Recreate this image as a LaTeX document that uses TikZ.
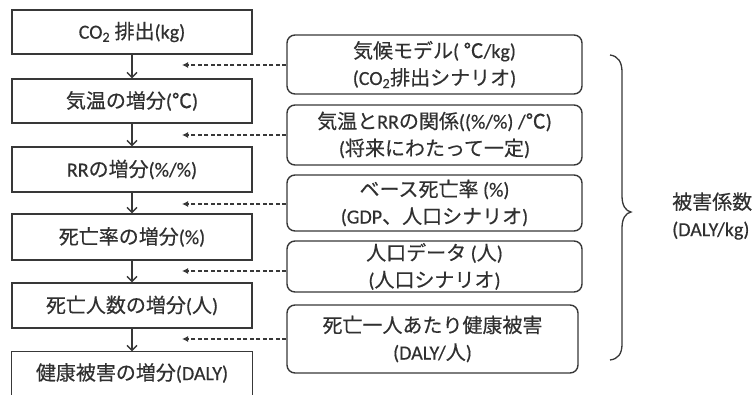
\documentclass[tikz,border=0pt]{standalone}
\usepackage{fontspec}
\setmainfont{Carlito}[FakeBold=0.4]
\newfontfamily\jp{Noto Sans CJK JP}[FakeBold=0.4]
\usetikzlibrary{arrows.meta}
\definecolor{linec}{HTML}{383838}
\definecolor{textc}{HTML}{303030}
\begin{document}
\begin{tikzpicture}[x=1pt,y=-1pt,
  lbox/.style={draw=linec, line width=1.4pt, fill=white, minimum width=240pt, inner sep=0pt, font=\fontsize{20}{24}\selectfont, text=textc},
  rbox/.style={draw=linec, line width=1.4pt, rounded corners=8pt, minimum width=295pt, inner sep=0pt, align=center, font=\fontsize{20}{27}\selectfont, text=textc},
  flow/.style={draw=linec, line width=1.3pt, -{Straight Barb[length=5pt,width=10pt]}},
  feed/.style={draw=linec, line width=1.3pt, dash pattern=on 4pt off 2.5pt, -{Latex[length=6pt,width=6pt]}},
  brace/.style={draw=linec, line width=1.3pt},
  lab/.style={align=left, inner sep=0pt, font=\fontsize{20}{27}\selectfont, text=textc},
]
\useasboundingbox (0,0) rectangle (754,394);
% left column
\node[lbox, minimum height=44pt] (L1) at (132,32) {CO\textsubscript{2} {\jp 排出}(kg)};
\node[lbox, minimum height=44pt] (L2) at (132,101) {{\jp 気温の増分}({\jp ℃})};
\node[lbox, minimum height=45pt] (L3) at (132,169.5) {RR{\jp の増分}(\%/\%)};
\node[lbox, minimum height=46pt] (L4) at (132,237) {{\jp 死亡率の増分}(\%)};
\node[lbox, minimum height=45pt] (L5) at (132,305.5) {{\jp 死亡人数の増分}({\jp 人})};
\node[lbox, draw=none, fill=none, minimum height=42pt] (L6) at (132,373) {{\jp 健康被害の増分}(DALY)};
\draw[draw=linec, line width=1.4pt] (L6.south west) -- (L6.north west) -- (L6.north east) -- (L6.south east);
\draw[flow] (L1) -- (L2);
\draw[flow] (L2) -- (L3);
\draw[flow] (L3) -- (L4);
\draw[flow] (L4) -- (L5);
\draw[flow] (L5.south) -- (L6.north);
% right column
\node[rbox, minimum height=59pt] (R1) at (434.5,64.5) {{\jp 気候モデル}( {\jp ℃}/kg)\\(CO\textsubscript{2}{\jp 排出シナリオ})};
\node[rbox, minimum height=60pt] (R2) at (434.5,135) {{\jp 気温と}RR{\jp の関係}((\%/\%) /{\jp ℃})\\({\jp 将来にわたって一定})};
\node[rbox, minimum height=56pt] (R3) at (434.5,203) {{\jp ベース死亡率} (\%)\\(GDP{\jp 、人口シナリオ})};
\node[rbox, minimum height=51pt] (R4) at (434.5,266.5) {{\jp 人口データ} ({\jp 人})\\({\jp 人口シナリオ})};
\node[rbox, minimum height=68pt, minimum width=291pt] (R5) at (432.5,339) {{\jp 死亡一人あたり健康被害}\\(DALY/{\jp 人})};
\coordinate (t1) at (182,65);
\coordinate (t2) at (182,135);
\coordinate (t3) at (182,204);
\coordinate (t4) at (182,271);
\coordinate (t5) at (182,339);
\draw[feed] (R1.west |- t1) -- (t1);
\draw[feed] (R2.west |- t2) -- (t2);
\draw[feed] (R3.west |- t3) -- (t3);
\draw[feed] (R4.west |- t4) -- (t4);
\draw[feed] (R5.west |- t5) -- (t5);
% brace
\draw[brace] (610,55) .. controls (618,56) and (622,62) .. (622,72) -- (622,196)
  .. controls (622,206) and (626,211) .. (631,212)
  .. controls (626,213) and (622,218) .. (622,228) -- (622,344)
  .. controls (622,354) and (618,359) .. (610,360);
\node[lab, anchor=west] (K) at (672,216) {{\jp 被害係数}\\(DALY/kg)};
\end{tikzpicture}
\end{document}
